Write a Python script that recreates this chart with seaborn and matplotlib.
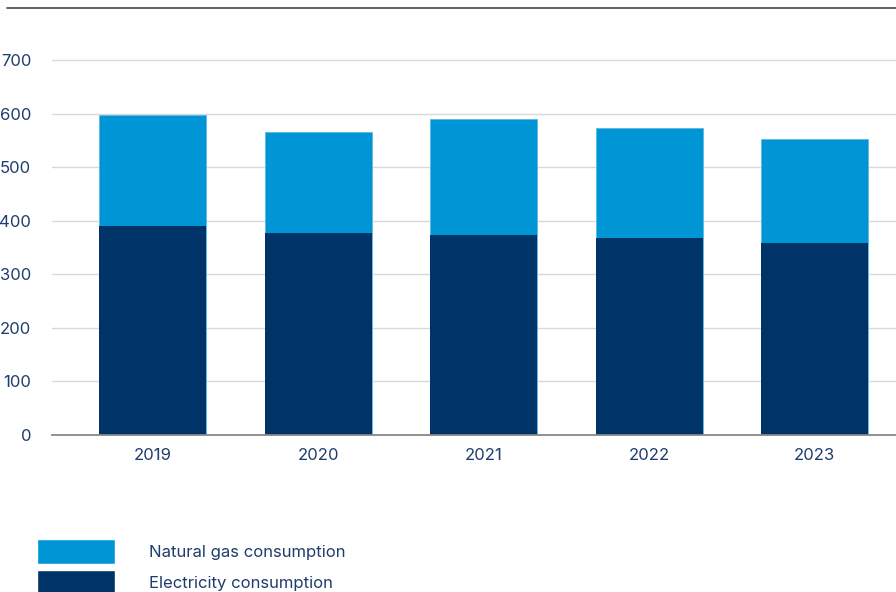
import numpy as np
import pandas as pd
import matplotlib.pyplot as plt
import seaborn as sns
from matplotlib.patches import Patch
from matplotlib.lines import Line2D

years = ['2019', '2020', '2021', '2022', '2023']
electricity = [390, 378, 373, 368, 359]
natural_gas = [208, 189, 217, 205, 194]

gas_color = '#0096D6'
elec_color = '#003468'
text_color = '#1F3D6B'

sns.set_theme(style='white')
plt.rcParams['font.family'] = ['Inter', 'DejaVu Sans']

df = pd.DataFrame({'year': years, 'electricity': electricity, 'gas': natural_gas})
df['total'] = df['electricity'] + df['gas']

fig = plt.figure(figsize=(8.96, 5.92), dpi=100)
ax = fig.add_axes([52 / 896, 157 / 592, 1 - 52 / 896, 0.916 - 157 / 592])

# stacked: draw the total first, electricity on top of it
sns.barplot(data=df, x='year', y='total', color=gas_color, width=0.645,
            saturation=1, edgecolor='#5BB8E6', linewidth=0.6, ax=ax, zorder=3)
sns.barplot(data=df, x='year', y='electricity', color=elec_color, width=0.645,
            saturation=1, linewidth=0, ax=ax, zorder=3)

ax.set_ylim(0, 720)
ax.set_xlim(-0.607, 4.49)
ax.set_yticks(range(0, 701, 100))
ax.yaxis.grid(True, color='#D9D9D9', linewidth=1, zorder=0)
ax.set_axisbelow(True)
for s in ['top', 'right', 'left']:
    ax.spines[s].set_visible(False)
ax.spines['bottom'].set_color('#888888')
ax.spines['bottom'].set_linewidth(1.3)
ax.spines['bottom'].set_zorder(4)
ax.tick_params(axis='y', length=0, pad=15, labelsize=12, labelcolor=text_color)
ax.tick_params(axis='x', length=0, pad=9, labelsize=12, labelcolor=text_color)
ax.set_xlabel('')
ax.set_ylabel('')

# rule across the top of the figure
fig.add_artist(Line2D([7 / 896, 1], [1 - 8 / 592, 1 - 8 / 592], color='#555555', linewidth=1.3))

handles = [Patch(facecolor=gas_color, label='Natural gas consumption'),
           Patch(facecolor=elec_color, label='Electricity consumption')]
fig.legend(handles=handles, loc='upper left', bbox_to_anchor=(37 / 896, 1 - 539 / 592),
           frameon=False, borderpad=0, borderaxespad=0, handlelength=4.7, handleheight=1.9,
           handletextpad=2.0, labelspacing=0.4, fontsize=12, labelcolor=text_color)

fig.savefig('out.png', dpi=100)
